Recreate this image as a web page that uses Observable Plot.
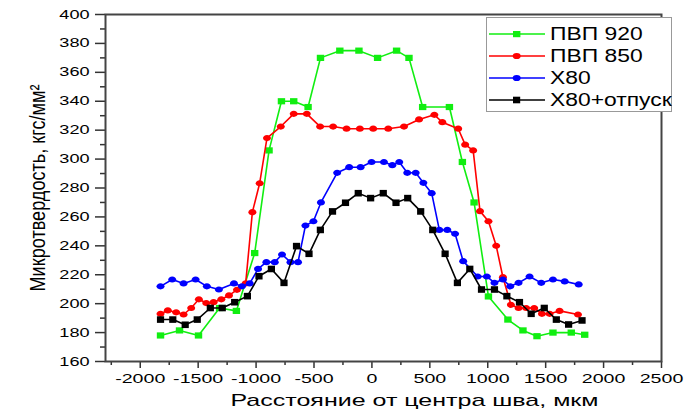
<!DOCTYPE html>
<html><head><meta charset="utf-8">
<script src="https://cdn.jsdelivr.net/npm/d3@7"></script>
<script src="https://cdn.jsdelivr.net/npm/@observablehq/plot@0.6"></script>
<style>
body{margin:0;background:#fff;font-family:"Liberation Sans",Arial,sans-serif;}
#wrap{position:relative;width:691px;height:416px;overflow:hidden;}
#wrap svg{display:block;}
#legend{position:absolute;left:486px;top:17px;width:186px;height:95px;border:1px solid #999;background:#fff;box-sizing:border-box;}
.row{position:absolute;left:0;height:22px;display:flex;align-items:center;}
.row svg{margin-left:2px;}
.row span{font-size:18px;transform:scaleX(1.27);transform-origin:left center;margin-left:5px;white-space:nowrap;color:#000;line-height:22px;}
</style></head>
<body><div id="wrap"><div id="legend"></div></div>
<script>
// ---- data ----
const seriesNames = ["ПВП 920", "ПВП 850", "X80", "X80+отпуск"];
const seriesColors = ["#11ee11", "#ff0000", "#0000ff", "#000000"];

const green_x = [-1825, -1661, -1497, -1315, -1170, -1012, -888, -781, -675, -551, -444, -277, -112, 49, 213, 320, 438, 669, 781, 882, 1006, 1174, 1304, 1425, 1563, 1721, 1837];
const green_y = [178, 181.5, 178, 197, 195, 235, 306, 340, 340, 336, 370, 375, 375, 370, 375, 370, 336, 336, 298, 270, 205, 189, 181.5, 177.5, 180, 180, 178.5];

const red_x = [-1825, -1762, -1690, -1626, -1560, -1494, -1430, -1367, -1300, -1234, -1165, -1090, -1032, -969, -906, -787, -675, -562, -447, -335, -219, -104, 11, 141, 277, 407, 539, 608, 745, 805, 874, 933, 1006, 1073, 1131, 1200, 1266, 1332, 1401, 1468, 1534, 1620, 1779];
const red_y = [193, 195.3, 194, 192.5, 197, 203, 200.4, 201, 203, 205.7, 209.6, 214, 263.3, 283.3, 314.5, 322.5, 331.3, 331.3, 322.5, 322.5, 321, 321, 321, 321, 322.5, 327.4, 330.6, 325.5, 321, 310, 306, 264, 257, 240, 218.3, 199.2, 197, 197, 197, 193, 193, 195, 192.5];

const blue_x = [-1825, -1724, -1626, -1522, -1425, -1321, -1191, -1122, -1055, -983, -911, -839, -776, -703, -638, -574, -505, -440, -300, -196, -98, -3, 104, 176, 236, 305, 378, 444, 516, 582, 651, 718, 788, 913, 992, 1058, 1131, 1194, 1266, 1361, 1462, 1563, 1664, 1785];
const blue_y = [212, 216.7, 214, 216.7, 212, 209.8, 214, 212, 214, 224, 228.7, 228.7, 234, 228.7, 228.7, 254, 257, 270, 290.5, 294.4, 294.4, 298, 298, 295.8, 298, 290.5, 290.5, 283.6, 276.4, 251, 251, 248.3, 229.4, 218.8, 218.8, 214.4, 216.7, 212, 214.4, 218.8, 214.4, 216.7, 215.4, 213.3];

const black_x = [-1825, -1719, -1612, -1508, -1395, -1292, -1185, -1075, -975, -868, -759, -651, -543, -445, -340, -228, -118, -11, 98, 208, 309, 421, 525, 632, 738, 845, 946, 1058, 1165, 1274, 1375, 1488, 1592, 1698, 1814];
const black_y = [189, 189, 185.4, 189, 197, 197, 201, 205.2, 219, 224, 214.4, 239.8, 234.5, 251, 263.8, 269.8, 276.4, 273, 276.4, 269.8, 273, 263.8, 251, 234.5, 214.4, 224, 209.8, 209.8, 205.2, 201, 193, 197, 189, 185.6, 188.4];

const xMajorTicks = [-2000, -1500, -1000, -500, 0, 500, 1000, 1500, 2000, 2500];
const xMinorTicks = [-2250, -1750, -1250, -750, -250, 250, 750, 1250, 1750, 2250];
const yMajorTicks = [160, 180, 200, 220, 240, 260, 280, 300, 320, 340, 360, 380, 400];
const yMinorTicks = [170, 190, 210, 230, 250, 270, 290, 310, 330, 350, 370, 390];

const xLabel = "Расстояние от центра шва, мкм";
const yLabel = "Микротвердость, кгс/мм²";

// ---- markers ----
function ellipseSym(rx, ry) {
  const k = 0.5523;
  return {draw(ctx) {
    ctx.moveTo(rx, 0);
    ctx.bezierCurveTo(rx, k*ry, k*rx, ry, 0, ry);
    ctx.bezierCurveTo(-k*rx, ry, -rx, k*ry, -rx, 0);
    ctx.bezierCurveTo(-rx, -k*ry, -k*rx, -ry, 0, -ry);
    ctx.bezierCurveTo(k*rx, -ry, rx, -k*ry, rx, 0);
    ctx.closePath();
  }};
}
function rectSym(w, h) {
  return {draw(ctx) { ctx.rect(-w/2, -h/2, w, h); }};
}
const symbols = [rectSym(7.4, 6.2), ellipseSym(4, 3.1), ellipseSym(4, 3.1), rectSym(7.2, 6.6)];

const rows = (xs, ys) => xs.map((x, i) => ({x, y: ys[i]}));
const series = [rows(green_x, green_y), rows(red_x, red_y), rows(blue_x, blue_y), rows(black_x, black_y)];

const dataMarks = [];
series.forEach((d, i) => {
  dataMarks.push(Plot.line(d, {x: "x", y: "y", stroke: seriesColors[i], strokeWidth: 1.6}));
  dataMarks.push(Plot.dot(d, {x: "x", y: "y", symbol: symbols[i], r: 4, fill: seriesColors[i], stroke: "none"}));
});

const fmt = d => String(d);

const plot = Plot.plot({
  width: 691, height: 416,
  marginLeft: 105, marginRight: 30, marginTop: 14, marginBottom: 55,
  style: {fontFamily: "'Liberation Sans', Arial, sans-serif", color: "#000", background: "transparent"},
  x: {domain: [-2300, 2500]},
  y: {domain: [160, 400]},
  marks: [
    Plot.axisY(yMajorTicks, {tickSize: 10, tickPadding: 6, fontSize: 12.5, label: null, stroke: "#333", strokeWidth: 1.5, fill: "#000", tickFormat: fmt}),
    Plot.axisY(yMinorTicks, {tickSize: 5, fill: "none", label: null, stroke: "#333", strokeWidth: 1.5}),
    Plot.axisX(xMajorTicks, {tickSize: 7, tickPadding: 5, fontSize: 13.5, label: null, stroke: "#333", strokeWidth: 1.5, fill: "#000", tickFormat: fmt}),
    Plot.axisX(xMinorTicks, {tickSize: 4, fill: "none", label: null, stroke: "#333", strokeWidth: 1.5}),
    Plot.frame({stroke: "#444", strokeWidth: 2}),
    ...dataMarks,
    Plot.text([xLabel], {text: d => d, frameAnchor: "bottom", textAnchor: "middle", dx: 31, dy: 44, fontSize: 17, fill: "#000", ariaDescription: "xlabel"}),
    Plot.text([yLabel], {text: d => d, frameAnchor: "left", textAnchor: "middle", rotate: -90, dx: -68, fontSize: 17, fill: "#000", ariaDescription: "ylabel"})
  ]
});

const wrap = document.getElementById("wrap");
wrap.prepend(plot);

// horizontal stretching of text, as in the reference
function stretch(sel, f) {
  plot.querySelectorAll(sel).forEach(t => {
    const w = t.getComputedTextLength();
    t.setAttribute("textLength", (w * f).toFixed(1));
    t.setAttribute("lengthAdjust", "spacingAndGlyphs");
  });
}
stretch('g[aria-label="y-axis tick label"] text', 1.45);
stretch('g[aria-label="x-axis tick label"] text', 1.45);
plot.querySelectorAll('g[aria-description="xlabel"] text').forEach(t => {
  t.setAttribute("textLength", 368);
  t.setAttribute("lengthAdjust", "spacingAndGlyphs");
});
plot.querySelectorAll('g[aria-description="ylabel"] text').forEach(t => {
  t.setAttribute("textLength", 207);
  t.setAttribute("lengthAdjust", "spacingAndGlyphs");
  const tr = t.getAttribute("transform") || "";
  t.setAttribute("transform", tr.replace("rotate(-90)", "scale(1.3,1) rotate(-90)"));
});

// legend
const legend = document.getElementById("legend");
const legendSvgSymbols = [
  '<rect x="24" y="3" width="7.4" height="6.2"/>',
  '<ellipse cx="27.7" cy="6" rx="4" ry="3.1"/>',
  '<ellipse cx="27.7" cy="6" rx="4" ry="3.1"/>',
  '<rect x="24" y="2.7" width="7.2" height="6.6"/>'
];
seriesNames.forEach((name, i) => {
  const row = document.createElement("div");
  row.className = "row";
  row.style.top = (5 + i * 22) + "px";
  row.innerHTML = `<svg width="56" height="12"><line x1="0" x2="56" y1="6" y2="6" stroke="${seriesColors[i]}" stroke-width="1.6"/><g fill="${seriesColors[i]}">${legendSvgSymbols[i]}</g></svg><span>${name}</span>`;
  legend.appendChild(row);
});
</script>
</body></html>
